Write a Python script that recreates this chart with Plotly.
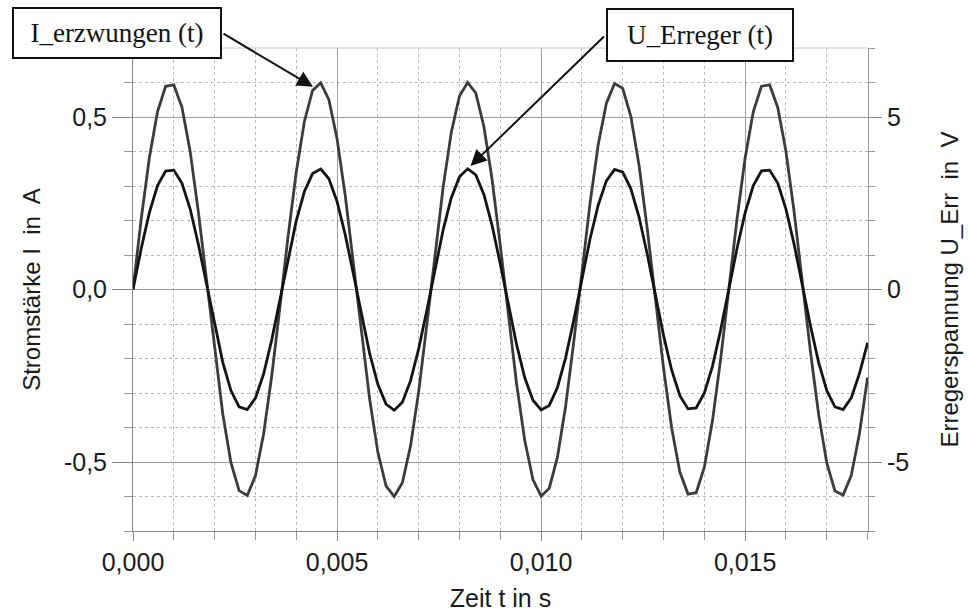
import plotly.graph_objects as go

# ---------------- data ----------------
t_s = [0.0000, 0.0002, 0.0004, 0.0006, 0.0008, 0.0010, 0.0012, 0.0014, 0.0016, 0.0018,
       0.0020, 0.0022, 0.0024, 0.0026, 0.0028, 0.0030, 0.0032, 0.0034, 0.0036, 0.0038,
       0.0040, 0.0042, 0.0044, 0.0046, 0.0048, 0.0050, 0.0052, 0.0054, 0.0056, 0.0058,
       0.0060, 0.0062, 0.0064, 0.0066, 0.0068, 0.0070, 0.0072, 0.0074, 0.0076, 0.0078,
       0.0080, 0.0082, 0.0084, 0.0086, 0.0088, 0.0090, 0.0092, 0.0094, 0.0096, 0.0098,
       0.0100, 0.0102, 0.0104, 0.0106, 0.0108, 0.0110, 0.0112, 0.0114, 0.0116, 0.0118,
       0.0120, 0.0122, 0.0124, 0.0126, 0.0128, 0.0130, 0.0132, 0.0134, 0.0136, 0.0138,
       0.0140, 0.0142, 0.0144, 0.0146, 0.0148, 0.0150, 0.0152, 0.0154, 0.0156, 0.0158,
       0.0160, 0.0162, 0.0164, 0.0166, 0.0168, 0.0170, 0.0172, 0.0174, 0.0176, 0.0178,
       0.0180]

# I_erzwungen (t) in A (left axis)
i_erzwungen = [0.000, 0.203, 0.381, 0.515, 0.589, 0.593, 0.528, 0.401, 0.226, 0.026,
               -0.178, -0.361, -0.502, -0.583, -0.597, -0.540, -0.419, -0.250, -0.051, 0.154,
               0.340, 0.487, 0.577, 0.599, 0.550, 0.437, 0.273, 0.077, -0.129, -0.319,
               -0.472, -0.569, -0.600, -0.560, -0.454, -0.296, -0.102, 0.104, 0.297, 0.456,
               0.561, 0.600, 0.569, 0.471, 0.318, 0.127, -0.078, -0.274, -0.438, -0.551,
               -0.599, -0.576, -0.486, -0.339, -0.152, 0.053, 0.251, 0.420, 0.540, 0.597,
               0.583, 0.501, 0.360, 0.177, -0.027, -0.228, -0.402, -0.529, -0.593, -0.589,
               -0.515, -0.380, -0.201, 0.002, 0.204, 0.382, 0.516, 0.589, 0.593, 0.527,
               0.400, 0.225, 0.024, -0.180, -0.362, -0.503, -0.584, -0.596, -0.539, -0.418,
               -0.255]

# U_Erreger (t) in V (right axis)
u_erreger = [0.00, 1.18, 2.22, 3.01, 3.43, 3.46, 3.08, 2.34, 1.32, 0.15,
             -1.04, -2.11, -2.93, -3.40, -3.48, -3.15, -2.45, -1.46, -0.30, 0.90,
             1.99, 2.84, 3.36, 3.49, 3.21, 2.55, 1.59, 0.45, -0.75, -1.86,
             -2.75, -3.32, -3.50, -3.27, -2.65, -1.72, -0.60, 0.60, 1.73, 2.66,
             3.27, 3.50, 3.32, 2.75, 1.85, 0.74, -0.46, -1.60, -2.56, -3.21,
             -3.49, -3.36, -2.84, -1.98, -0.89, 0.31, 1.47, 2.45, 3.15, 3.48,
             3.40, 2.92, 2.10, 1.03, -0.16, -1.33, -2.34, -3.08, -3.46, -3.43,
             -3.00, -2.22, -1.17, 0.01, 1.19, 2.23, 3.01, 3.44, 3.46, 3.08,
             2.33, 1.31, 0.14, -1.05, -2.11, -2.93, -3.40, -3.48, -3.14, -2.44,
             -1.55]

x_tickvals = [0.000, 0.005, 0.010, 0.015]
x_ticktext = ["0,000", "0,005", "0,010", "0,015"]
y_tickvals = [-0.5, 0.0, 0.5]
y_ticktext = ["-0,5", "0,0", "0,5"]
y2_tickvals = [-5, 0, 5]
y2_ticktext = ["-5", "0", "5"]

# ---------------- figure ----------------
SANS = "Liberation Sans, Arial, sans-serif"
SERIF = "Liberation Serif, Times New Roman, serif"
MAJ = "#9c9c9c"
MIN = "#bababa"

fig = go.Figure()
fig.add_trace(go.Scatter(x=t_s, y=i_erzwungen, mode="lines", name="I_erzwungen (t)",
                         line=dict(color="#3c3c3c", width=2.8), yaxis="y"))
fig.add_trace(go.Scatter(x=t_s, y=u_erreger, mode="lines", name="U_Erreger (t)",
                         line=dict(color="#141414", width=2.8), yaxis="y2"))

fig.update_layout(
    width=969, height=613,
    margin=dict(l=133, r=101, t=48, b=82, autoexpand=False),
    paper_bgcolor="white", plot_bgcolor="white",
    showlegend=False,
    font=dict(family=SANS, size=25, color="#1a1a1a"),
    xaxis=dict(
        range=[0, 0.01801], tickmode="array", tickvals=x_tickvals, ticktext=x_ticktext,
        ticks="outside", ticklen=9, tickcolor="#888", tickwidth=1,
        showgrid=True, gridcolor=MAJ, gridwidth=1,
        showline=True, linecolor="#888", linewidth=1,
        zeroline=False, automargin=False,
        minor=dict(tickmode="linear", tick0=0, dtick=0.001, ticks="outside", ticklen=8,
                   tickcolor="#999", showgrid=True, gridcolor=MIN, griddash="dot", gridwidth=1),
        tickfont=dict(size=25),
        title=dict(text="Zeit t in s", font=dict(size=25), standoff=14),
    ),
    yaxis=dict(
        range=[-0.7, 0.7], tickmode="array", tickvals=y_tickvals, ticktext=y_ticktext,
        ticks="outside", ticklen=20, tickcolor="#888", tickwidth=1,
        showgrid=True, gridcolor=MAJ, gridwidth=1,
        showline=True, linecolor="#888", linewidth=1,
        zeroline=False, automargin=False,
        minor=dict(tickmode="linear", tick0=0, dtick=0.1, ticks="outside", ticklen=8,
                   tickcolor="#999", showgrid=True, gridcolor=MIN, griddash="dot", gridwidth=1),
        tickfont=dict(size=25),
        title=dict(text="Stromstärke I  in  A", font=dict(size=24), standoff=16),
    ),
    yaxis2=dict(
        range=[-7, 7], overlaying="y", side="right", anchor="x",
        tickmode="array", tickvals=y2_tickvals, ticktext=y2_ticktext,
        ticks="outside", ticklen=13, tickcolor="#888", tickwidth=1,
        showgrid=False, zeroline=False, automargin=False,
        showline=True, linecolor="#999", linewidth=1,
        minor=dict(tickmode="linear", tick0=0, dtick=1, ticks="outside", ticklen=6,
                   tickcolor="#999", showgrid=False),
        tickfont=dict(size=25),
        title=dict(text="Erregerspannung U_Err  in  V", font=dict(size=24), standoff=32),
    ),
)

# top frame line (light)
fig.add_shape(type="line", xref="paper", yref="paper", x0=0, x1=1, y0=1, y1=1,
              line=dict(color="#c8c8c8", width=1))

# label boxes
fig.add_annotation(xref="paper", yref="paper", x=-0.0218, y=1.031,
                   text="I_erzwungen (t)", showarrow=False,
                   font=dict(family=SERIF, size=27, color="#111"),
                   bgcolor="white", bordercolor="#111", borderwidth=2, borderpad=2,
                   width=202, height=44, xanchor="center", yanchor="middle")
fig.add_annotation(xref="paper", yref="paper", x=0.7714, y=1.027,
                   text="U_Erreger (t)", showarrow=False,
                   font=dict(family=SERIF, size=27, color="#111"),
                   bgcolor="white", bordercolor="#111", borderwidth=2, borderpad=2,
                   width=180, height=46, xanchor="center", yanchor="middle")

# arrows
fig.add_annotation(x=0.00441, y=0.5875, xref="x", yref="y", text="",
                   showarrow=True, arrowhead=2, arrowsize=1.6, arrowwidth=2,
                   arrowcolor="#111", ax=-91, ay=-54, standoff=0)
fig.add_annotation(x=0.00827, y=0.358, xref="x", yref="y", text="",
                   showarrow=True, arrowhead=2, arrowsize=1.6, arrowwidth=2,
                   arrowcolor="#111", ax=135, ay=-131, standoff=0)

fig.write_html("out.html", config={"displayModeBar": False})

with open("out.html", "r", encoding="utf-8") as f:
    html = f.read()
html = html.replace("<body>", '<body style="margin:0;padding:0;">', 1)
with open("out.html", "w", encoding="utf-8") as f:
    f.write(html)
